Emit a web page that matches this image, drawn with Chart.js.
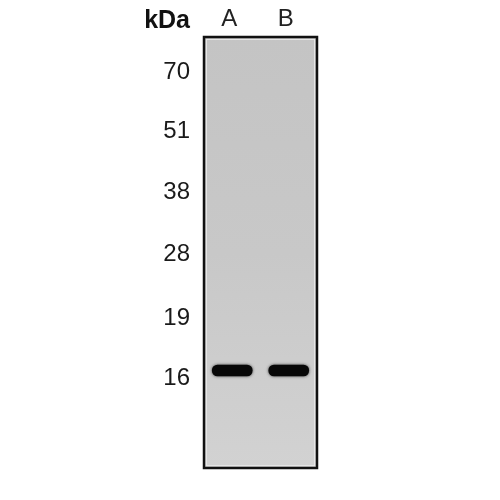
<!DOCTYPE html>
<html lang="en">
<head>
	<meta charset="UTF-8">
	<title>Western blot</title>
	<script src="https://cdn.jsdelivr.net/npm/chart.js"></script>
	<style>
		html, body { margin: 0; padding: 0; background: #fff; }
		#wrap { width: 500px; height: 500px; }
	</style>
</head>
<body>
	<div id="wrap"><canvas id="blot"></canvas></div>
	<script>
	// lanes and molecular weight ladder
	const lanes = ['A', 'B'];
	const markerLabels = ['70', '51', '38', '28', '19', '16'];
	// migration distance from top of the membrane (px-like units)
	const markerPos = [35, 94, 155, 217, 281, 341];
	const membraneLength = 431;
	// band spans per lane [top, bottom] in migration units
	const bandTop = [328, 328];
	const bandBottom = [339, 339];

	const labelFont = '"Liberation Sans", Arial, sans-serif';

	// grey membrane + frame + kDa caption
	const membrane = {
		id: 'membrane',
		beforeDatasetsDraw(chart) {
			const { ctx, chartArea: a } = chart;
			const g = ctx.createLinearGradient(0, a.top, 0, a.bottom);
			g.addColorStop(0, '#c4c4c4');
			g.addColorStop(0.5, '#c8c8c8');
			g.addColorStop(1, '#d2d2d2');
			ctx.save();
			ctx.fillStyle = g;
			ctx.fillRect(a.left, a.top, a.right - a.left, a.bottom - a.top);
			ctx.restore();
			// soft band edges
			ctx.save();
			ctx.shadowColor = 'rgba(0,0,0,0.7)';
			ctx.shadowBlur = 3;
		},
		afterDatasetsDraw(chart) {
			const { ctx, chartArea: a } = chart;
			ctx.restore();
			ctx.save();
			ctx.strokeStyle = '#e6e6e6';
			ctx.lineWidth = 1;
			ctx.strokeRect(a.left + 2.5, a.top + 2.5, a.right - a.left - 5, a.bottom - a.top - 5);
			ctx.strokeStyle = '#111';
			ctx.lineWidth = 2.5;
			ctx.strokeRect(a.left, a.top, a.right - a.left, a.bottom - a.top);
			ctx.fillStyle = '#111';
			ctx.font = 'bold 25px "Liberation Sans", Arial, sans-serif';
			ctx.textAlign = 'right';
			ctx.textBaseline = 'middle';
			ctx.fillText('kDa', 190, 21);
			ctx.restore();
		}
	};

	new Chart(document.getElementById('blot'), {
		type: 'bar',
		data: {
			labels: lanes,
			datasets: [{
				data: lanes.map((l, i) => [bandTop[i], bandBottom[i]]),
				backgroundColor: '#080808',
				borderWidth: 0,
				borderRadius: 6,
				borderSkipped: false,
				barThickness: 40
			}]
		},
		options: {
			responsive: true,
			maintainAspectRatio: false,
			animation: false,
			layout: { padding: { left: 0, right: 183, top: 0, bottom: 32 } },
			plugins: { legend: { display: false }, tooltip: { enabled: false } },
			scales: {
				x: {
					position: 'top',
					grid: { display: false, drawTicks: false },
					border: { display: false },
					ticks: {
						color: '#222',
						padding: 3,
						labelOffset: -3,
						font: { size: 24, family: labelFont }
					},
					afterFit(scale) { scale.height = 37; }
				},
				y: {
					reverse: true,
					min: 0,
					max: membraneLength,
					grid: { display: false, drawTicks: false },
					border: { display: false },
					afterBuildTicks(scale) {
						scale.ticks = markerPos.map(v => ({ value: v }));
					},
					ticks: {
						color: '#1a1a1a',
						padding: 14,
						font: { size: 24, family: labelFont },
						callback(value) {
							const i = markerPos.indexOf(value);
							return i >= 0 ? markerLabels[i] : '';
						}
					},
					afterFit(scale) { scale.width = 204; }
				}
			}
		},
		plugins: [membrane]
	});
	</script>
</body>
</html>
